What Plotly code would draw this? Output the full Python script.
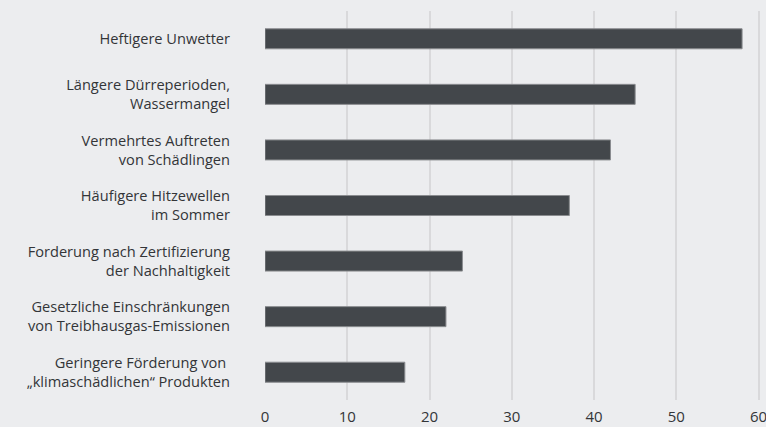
import plotly.graph_objects as go

categories = [
    "Heftigere Unwetter",
    "Längere Dürreperioden,<br>Wassermangel",
    "Vermehrtes Auftreten<br>von Schädlingen",
    "Häufigere Hitzewellen<br>im Sommer",
    "Forderung nach Zertifizierung<br>der Nachhaltigkeit",
    "Gesetzliche Einschränkungen<br>von Treibhausgas-Emissionen",
    "Geringere Förderung von <br>„klimaschädlichen“ Produkten",
]
values = [58, 45, 42, 37, 24, 22, 17]
x_ticks = [0, 10, 20, 30, 40, 50, 60]

fig = go.Figure(go.Bar(
    x=values,
    y=categories,
    orientation="h",
    marker=dict(color="#43474b", line=dict(color="#8a8c8f", width=1)),
    width=0.36,
    hoverinfo="skip",
))

fig.update_layout(
    width=766, height=427,
    margin=dict(l=265, r=5, t=11, b=27),
    paper_bgcolor="#ecedef",
    plot_bgcolor="#ecedef",
    font=dict(family="Open Sans, sans-serif", size=14.6, color="#333538"),
    showlegend=False,
)
fig.update_xaxes(
    range=[0, 60.3], tickvals=x_ticks, showgrid=True, gridcolor="#d9d9db", gridwidth=1.5,
    zeroline=False, showline=False, ticklabelstandoff=6, ticklabeloverflow="allow",
    tickfont=dict(size=15, color="#333538"), automargin=False,
)
fig.update_yaxes(
    autorange="reversed", showgrid=False, zeroline=False, showline=False,
    ticklabelstandoff=34, automargin=False,
)

fig.write_html(
    "out.html",
    config={"displayModeBar": False},
    post_script="document.body.style.margin='0';document.body.style.background='#ecedef';",
)
